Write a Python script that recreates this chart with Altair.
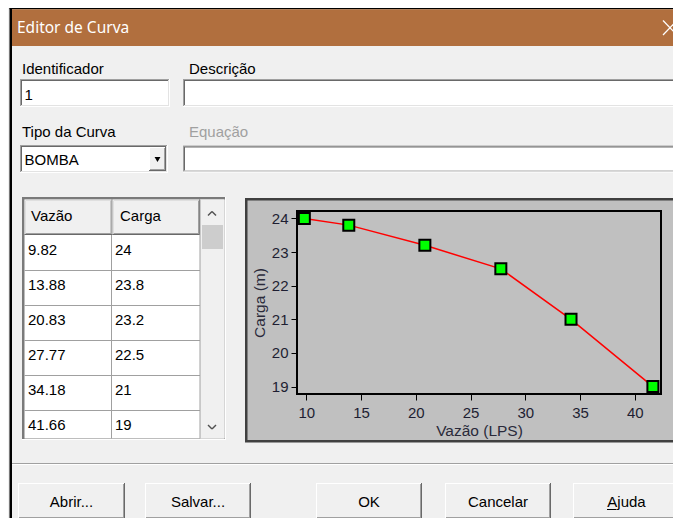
import altair as alt
import pandas as pd

# ---------------- data ----------------
vazao = [9.82, 13.88, 20.83, 27.77, 34.18, 41.66]
carga = [24, 23.8, 23.2, 22.5, 21, 19]
col_headers = ["Vazão", "Carga"]
x_ticks = [10, 15, 20, 25, 30, 35, 40]
y_ticks = [19, 20, 21, 22, 23, 24]
x_title = "Vazão (LPS)"
y_title = "Carga (m)"
dialog_title = "Editor de Curva"
field_labels = ["Identificador", "Descrição", "Tipo da Curva", "Equação"]
id_value = "1"
curve_type = "BOMBA"
buttons = ["Abrir...", "Salvar...", "OK", "Cancelar", "Ajuda"]

# ---------------- layout (page pixels) ----------------
W, H = 364, 183          # plot frame
OX, OY = 297, 211        # page position of plot origin
SVG_W, SVG_H = 665, 510
PAD = {"left": OX - 8, "top": OY - 8,
       "right": SVG_W - (OX - 8) - W, "bottom": SVG_H - (OY - 8) - H}
UI_FONT = "Liberation Sans, Arial, sans-serif"
TITLE_FONT = "Noto Sans, Open Sans, sans-serif"

rects, rules, texts, ctexts = [], [], [], []


def R(x1, y1, x2, y2, fill):
    rects.append(dict(x=x1 - OX, x2=x2 - OX, y=y1 - OY, y2=y2 - OY, fill=fill))


def L(x1, y1, x2, y2, color, w=1.0):
    rules.append(dict(x=x1 - OX, x2=x2 - OX, y=y1 - OY, y2=y2 - OY, c=color, w=w))


def T(x, y, t, color="#000000"):
    texts.append(dict(x=x - OX, y=y - OY, t=t, c=color))


def CT(x, y, t, color="#000000"):
    ctexts.append(dict(x=x - OX, y=y - OY, t=t, c=color))


def sunken(x1, y1, x2, y2, face="#FFFFFF"):
    R(x1, y1, x2, y2, "#FFFFFF")
    R(x1, y1, x2 - 1, y2 - 1, "#A0A0A0")
    R(x1 + 1, y1 + 1, x2 - 1, y2 - 1, "#E3E3E3")
    R(x1 + 1, y1 + 1, x2 - 2, y2 - 2, "#696969")
    R(x1 + 2, y1 + 2, x2 - 2, y2 - 2, face)


def raised(x1, y1, x2, y2, face="#F0F0F0"):
    R(x1, y1, x2, y2, "#696969")
    R(x1, y1, x2 - 1, y2 - 1, "#FFFFFF")
    R(x1 + 1, y1 + 1, x2 - 1, y2 - 1, "#A0A0A0")
    R(x1 + 1, y1 + 1, x2 - 2, y2 - 2, face)


# window frame and title bar
R(9.5, 7, 12, 531, "#000000")
R(9.5, 7, 690, 9.3, "#000000")
R(12, 9.3, 690, 46, "#B16F3E")
L(663, 20.5, 677, 35, "#FFFFFF", 1.3)
L(663, 35, 677, 20.5, "#FFFFFF", 1.3)

# fields
T(22, 73.5, field_labels[0])
T(189, 73.5, field_labels[1])
T(22, 137, field_labels[2])
T(189, 137, field_labels[3], "#A0A0A0")
sunken(20, 79, 170, 107)
sunken(183, 79, 683, 107)
T(24.5, 100, id_value)
sunken(20, 145, 168, 173)
raised(149, 147, 166, 171)
sunken(183, 145.5, 683, 172.5)
T(24.5, 165, curve_type)

# table
R(22, 197, 226, 440, "#FFFFFF")
R(22, 197, 225, 439, "#7A7A7A")
R(24.5, 199.5, 224.5, 438.5, "#FFFFFF")
raised(24.5, 199.5, 112.5, 235)
raised(112.5, 199.5, 200, 235)
R(200, 199.5, 224.5, 438.5, "#F0F0F0")
R(202, 225, 223, 249, "#CDCDCD")
for i in range(len(vazao) - 1):
    yy = 270.5 + 35 * i
    L(24.5, yy, 200, yy, "#A0A0A0")
L(111.5, 235, 111.5, 438.5, "#A0A0A0")
L(200, 199.5, 200, 438.5, "#A0A0A0")
L(208, 215.5, 212, 211.5, "#505050", 1.4)
L(212, 211.5, 216, 215.5, "#505050", 1.4)
L(208, 425, 212, 429, "#505050", 1.4)
L(212, 429, 216, 425, "#505050", 1.4)
T(31, 220.5, col_headers[0])
T(120, 220.5, col_headers[1])
for i, (v, c) in enumerate(zip(vazao, carga)):
    T(28, 255 + 35 * i, f"{v:g}")
    T(115, 255 + 35 * i, f"{c:g}")

# chart panel
R(245, 198, 690, 442.5, "#404040")
R(247.5, 200.5, 690, 440, "#C0C0C0")

# bottom separator and buttons
L(12, 463.5, 690, 463.5, "#A0A0A0")
L(12, 464.5, 690, 464.5, "#FFFFFF")
btn_x = [(18, 125), (145, 251), (316, 422), (445, 551), (573, 680)]
for (x1, x2), name in zip(btn_x, buttons):
    raised(x1, 483, x2, 519)
    CT((x1 + x2) / 2, 507, name)
L(607, 509.5, 616.5, 509.5, "#000000", 1)


def dec(df):
    return alt.Chart(df).encode(
        x=alt.X("x:Q", scale=None, axis=None),
        y=alt.Y("y:Q", scale=None, axis=None),
    )


rect_layer = dec(pd.DataFrame(rects)).mark_rect().encode(
    x2="x2:Q", y2="y2:Q", fill=alt.Fill("fill:N", scale=None, legend=None)
)
rule_layer = dec(pd.DataFrame(rules)).mark_rule().encode(
    x2="x2:Q", y2="y2:Q",
    color=alt.Color("c:N", scale=None, legend=None),
    strokeWidth=alt.StrokeWidth("w:Q", scale=None, legend=None),
)
title_layer = dec(pd.DataFrame([dict(x=17 - OX, y=33 - OY, t=dialog_title)])).mark_text(
    align="left", baseline="alphabetic", font=TITLE_FONT, fontSize=15.5, color="#FFFFFF"
).encode(text="t:N")
text_layer = dec(pd.DataFrame(texts)).mark_text(
    align="left", baseline="alphabetic", font=UI_FONT, fontSize=15
).encode(text="t:N", color=alt.Color("c:N", scale=None, legend=None))
ctext_layer = dec(pd.DataFrame(ctexts)).mark_text(
    align="center", baseline="alphabetic", font=UI_FONT, fontSize=15
).encode(text="t:N", color=alt.Color("c:N", scale=None, legend=None))
tri_layer = dec(pd.DataFrame([dict(x=157.5 - OX, y=159.5 - OY)])).mark_point(
    shape="triangle-down", filled=True, color="#000000", size=35, opacity=1
)
frame_layer = alt.Chart(pd.DataFrame({"a": [0]})).mark_rect(
    fillOpacity=0, stroke="#000000", strokeWidth=2
).encode(x=alt.value(0), x2=alt.value("width"), y=alt.value(0), y2=alt.value("height"))

# ---------------- the curve ----------------
df = pd.DataFrame({"vazao": vazao, "carga": carga})
axis_common = dict(
    domain=False, grid=False, tickColor="#000000", tickSize=6, tickWidth=1,
    labelFont=UI_FONT, labelFontSize=15, labelColor="#1E1E32", labelFlush=False,
    titleFont=UI_FONT, titleFontSize=15.5, titleColor="#2A2A3A", titleFontWeight="normal",
    format="d", zindex=1,
)
x_enc = alt.X("vazao:Q", scale=alt.Scale(domain=[9.15, 42.4], nice=False, zero=False),
              axis=alt.Axis(values=x_ticks, title=x_title, labelPadding=5.5, titlePadding=3,
                            **axis_common))
y_enc = alt.Y("carga:Q", scale=alt.Scale(domain=[18.78, 24.22], nice=False, zero=False),
              axis=alt.Axis(values=y_ticks, title=y_title, labelPadding=3, titlePadding=4,
                            **axis_common))
base = alt.Chart(df).encode(x=x_enc, y=y_enc)
line = base.mark_line(color="#FF0000", strokeWidth=1.5)
pts = base.mark_point(shape="square", filled=True, fill="#00FF00", stroke="#000000",
                      strokeWidth=2, size=121, opacity=1)

chart = alt.layer(
    rect_layer, rule_layer, frame_layer, title_layer, text_layer, ctext_layer,
    tri_layer, line, pts
).properties(
    width=W, height=H, padding=PAD, autosize=alt.AutoSizeParams(type="none"),
    background="#F0F0F0",
).configure_view(stroke=None)

chart.save("out.html", embed_options={"renderer": "svg", "actions": False})
